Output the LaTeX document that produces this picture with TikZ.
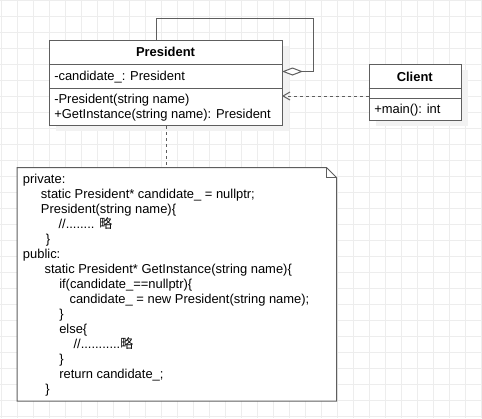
\documentclass[tikz,border=0pt]{standalone}
\usepackage{fontspec}
\setmainfont{Liberation Sans}
\newfontfamily\cjk{Noto Sans CJK SC}
\usetikzlibrary{arrows.meta,positioning}

\definecolor{umlline}{HTML}{5E5E5E}
\definecolor{gridgray}{HTML}{EDEDED}
\definecolor{shadowgray}{HTML}{F2F2F2}

\tikzset{
  gridline/.style={gridgray, line width=0.75pt},
  umlbox/.style={draw=umlline, fill=white, line width=0.75pt, inner sep=0pt},
  umlrule/.style={umlline, line width=0.75pt},
  umltext/.style={font=\fontsize{9.7}{11.25}\selectfont, inner sep=0pt},
  dashedline/.style={umlline, line width=0.75pt, dash pattern=on 2.25pt off 2.25pt},
}

\begin{document}
\begin{tikzpicture}[x=0.75pt, y=-0.75pt]
\useasboundingbox (0,0) rectangle (482,418);
% background grid
\foreach \x in {1,17,...,481}
  \draw[gridline] (\x,0) -- (\x,418);
\foreach \y in {0,16,...,416}
  \draw[gridline] (0,\y) -- (482,\y);
%
% President class
\fill[shadowgray] (56,46) rectangle (289,131);
\node[umlbox, minimum width=174.75pt, minimum height=63.75pt, anchor=north west] (president) at (49,40) {};
\draw[umlrule] (49,64.5) -- (282,64.5);
\draw[umlrule] (49,88.5) -- (282,88.5);
\node[umltext, anchor=base] (president title) at (165.5,56.7) {\bfseries President};
\node[umltext, anchor=base west] (president attr) at (54,80) {-candidate\_: President};
\node[umltext, anchor=base west] (president ctor) at (54,103.3) {-President(string name)};
\node[umltext, anchor=base west] (president get) at (54,118.3) {+GetInstance(string name): President};
%
% Client class
\fill[shadowgray] (375.5,69.5) rectangle (468,126);
\node[umlbox, minimum width=69.375pt, minimum height=42.375pt, anchor=north west] (client) at (368.5,63.5) {};
\draw[umlrule] (368.5,88.3) -- (461,88.3);
\draw[umlrule] (368.5,98.3) -- (461,98.3);
\node[umltext, anchor=base] (client title) at (414.75,81.5) {\bfseries Client};
\node[umltext, anchor=base west] (client main) at (374,113.3) {+main(): int};
%
% self association
\coordinate (loop start) at (156.5,40);
\coordinate (loop end) at (282,71.5);
\draw[umlrule, -{Diamond[fill=white, length=15.75pt, width=6pt]}] (loop start) |- (313.5,18.5) |- (loop end);
%
% dependency Client -> President
\coordinate (dep start) at (368.5,96);
\coordinate (dep end) at (282,96);
\draw[dashedline, -{Straight Barb[length=5.25pt, width=6pt]}] (dep start) -- (dep end);
%
% note
\node[inner sep=0pt, minimum width=239.25pt, minimum height=174.75pt, anchor=north west] (note) at (17,167.5) {};
\draw[umlbox] (note.north west) -- ([xshift=-7.5pt]note.north east) -- ([yshift=-7.5pt]note.north east)
  -- (note.south east) -- (note.south west) -- cycle;
\draw[umlrule] ([xshift=-7.5pt]note.north east) -- ++(0,10) -- ([yshift=-7.5pt]note.north east);
\draw[dashedline] (president.south) -- (president.south |- note.north);
\foreach \ind/\txt [count=\i] in {
  0/{private:},
  18/{static President* candidate\_ = nullptr;},
  18/{President(string name)\{},
  35.6/{//........ {\cjk 略}},
  23/{\}},
  0/{public:},
  21.6/{static President* GetInstance(string name)\{},
  36.3/{if(candidate\_==nullptr)\{},
  46.6/{candidate\_ = new President(string name);},
  36.3/{\}},
  36.3/{else\{},
  50.6/{//...........{\cjk 略}},
  36.3/{\}},
  36.3/{return candidate\_;},
  22.3/{\}}}
  \node[umltext, anchor=base west] (line\i) at (22.7+\ind,168.3+15*\i) {\txt};
\end{tikzpicture}
\end{document}
